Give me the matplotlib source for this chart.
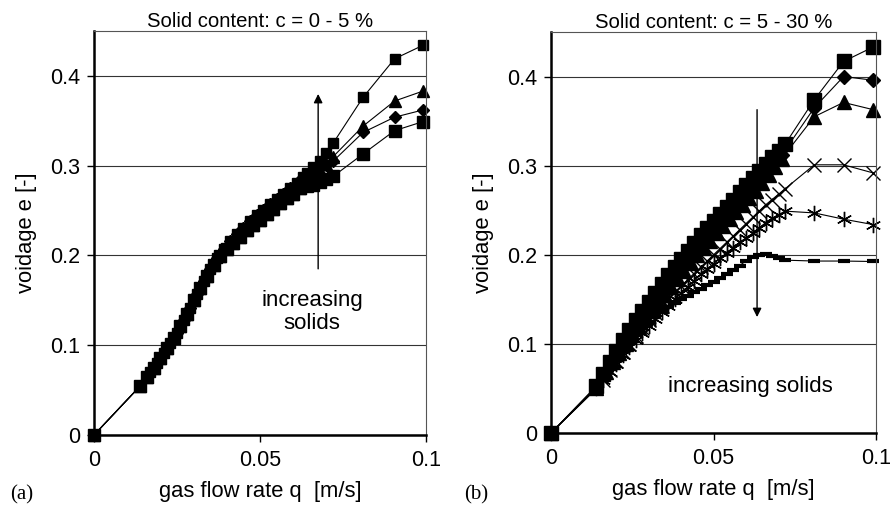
import matplotlib.pyplot as plt

plt.rcParams['font.family'] = ['Liberation Sans', 'DejaVu Sans']

# ---- panel (a): c = 0 - 5 %, dense part (two sets of measuring points) ----
left_q_dense_a = [0.0, 0.014, 0.016, 0.018, 0.020, 0.022, 0.024, 0.026, 0.028, 0.030, 0.032,
                  0.034, 0.036, 0.038, 0.040, 0.042, 0.044, 0.046, 0.048, 0.050, 0.052,
                  0.054, 0.056, 0.058, 0.060, 0.062]
left_e_dense_a = [0.0, 0.055, 0.065, 0.075, 0.086, 0.097, 0.108, 0.121, 0.135, 0.150, 0.164,
                  0.177, 0.189, 0.199, 0.207, 0.214, 0.221, 0.228, 0.234, 0.240, 0.246,
                  0.252, 0.258, 0.264, 0.269, 0.275]
left_q_dense_b = [0.0, 0.014, 0.017, 0.019, 0.021, 0.023, 0.025, 0.027, 0.029, 0.031, 0.033,
                  0.035, 0.037, 0.039, 0.041, 0.043, 0.045, 0.047, 0.049, 0.051, 0.053,
                  0.055, 0.057, 0.059, 0.061, 0.063]
left_e_dense_b = [0.0, 0.055, 0.070, 0.080, 0.091, 0.102, 0.114, 0.128, 0.142, 0.157, 0.171,
                  0.185, 0.197, 0.207, 0.216, 0.224, 0.231, 0.238, 0.245, 0.251, 0.257,
                  0.263, 0.269, 0.275, 0.281, 0.287]
# the curves separate above q = 0.062
left_q_tail = [0.064, 0.066, 0.068, 0.070, 0.072, 0.081, 0.0905, 0.099]
left_e_bigsq = [0.277, 0.279, 0.282, 0.285, 0.288, 0.313, 0.339, 0.349]
left_e_diam = [0.290, 0.294, 0.298, 0.301, 0.305, 0.337, 0.354, 0.362]
left_e_tri = [0.281, 0.288, 0.295, 0.302, 0.310, 0.344, 0.372, 0.383]
left_e_sq = [0.292, 0.298, 0.305, 0.314, 0.325, 0.376, 0.419, 0.434]

# ---- panel (b): c = 5 - 30 % ----
right_q = [0.0, 0.014, 0.016, 0.018, 0.020, 0.022, 0.024, 0.026, 0.028, 0.030, 0.032,
           0.034, 0.036, 0.038, 0.040, 0.042, 0.044, 0.046, 0.048, 0.050, 0.052,
           0.054, 0.056, 0.058, 0.060, 0.062, 0.064, 0.066, 0.068, 0.070, 0.072,
           0.081, 0.090, 0.099]
right_q_b = [0.0, 0.014, 0.017, 0.019, 0.021, 0.023, 0.025, 0.027, 0.029, 0.031, 0.033,
             0.035, 0.037, 0.039, 0.041, 0.043, 0.045, 0.047, 0.049, 0.051, 0.053,
             0.055, 0.057, 0.059, 0.061, 0.063, 0.065, 0.067, 0.069, 0.071,
             0.081, 0.090, 0.099]
right_e_sq = [0.0, 0.053, 0.066, 0.080, 0.092, 0.104, 0.116, 0.127, 0.137, 0.147, 0.157,
              0.167, 0.177, 0.186, 0.195, 0.204, 0.213, 0.222, 0.230, 0.238, 0.246,
              0.254, 0.262, 0.270, 0.278, 0.286, 0.294, 0.302, 0.310, 0.317, 0.324,
              0.374, 0.417, 0.433]
right_e_diam = [0.0, 0.052, 0.070, 0.083, 0.094, 0.105, 0.115, 0.125, 0.135, 0.145, 0.155,
                0.164, 0.173, 0.182, 0.191, 0.199, 0.208, 0.216, 0.224, 0.232, 0.240,
                0.248, 0.256, 0.264, 0.272, 0.280, 0.288, 0.296, 0.304, 0.312,
                0.365, 0.400, 0.396]
right_e_tri = [0.0, 0.051, 0.068, 0.080, 0.090, 0.100, 0.110, 0.119, 0.128, 0.137, 0.146,
               0.155, 0.164, 0.173, 0.182, 0.191, 0.200, 0.208, 0.216, 0.224, 0.232,
               0.240, 0.248, 0.256, 0.264, 0.272, 0.281, 0.290, 0.299, 0.308,
               0.355, 0.371, 0.363]
right_e_x = [0.0, 0.050, 0.060, 0.071, 0.081, 0.091, 0.100, 0.109, 0.118, 0.127, 0.135,
             0.143, 0.151, 0.158, 0.165, 0.172, 0.179, 0.186, 0.193, 0.200, 0.207,
             0.214, 0.221, 0.228, 0.235, 0.242, 0.249, 0.256, 0.262, 0.268, 0.274,
             0.301, 0.301, 0.292]
right_e_star = [0.0, 0.050, 0.059, 0.069, 0.078, 0.087, 0.096, 0.104, 0.112, 0.120, 0.128,
                0.136, 0.143, 0.150, 0.157, 0.164, 0.171, 0.178, 0.184, 0.190, 0.196,
                0.202, 0.208, 0.214, 0.219, 0.224, 0.230, 0.236, 0.241, 0.245, 0.249,
                0.247, 0.240, 0.234]
right_e_dash = [0.0, 0.052, 0.062, 0.072, 0.082, 0.092, 0.101, 0.110, 0.118, 0.125, 0.131,
                0.136, 0.141, 0.146, 0.150, 0.154, 0.158, 0.162, 0.166, 0.170, 0.174,
                0.178, 0.183, 0.188, 0.193, 0.197, 0.200, 0.201, 0.199, 0.196, 0.194,
                0.193, 0.193, 0.1925]

x_ticks = [0, 0.05, 0.1]
x_tick_labels = ['0', '0.05', '0.1']
y_ticks = [0, 0.1, 0.2, 0.3, 0.4]
y_tick_labels = ['0', '0.1', '0.2', '0.3', '0.4']

FS = 15.8


def style_axes(ax, title):
    ax.set_xlim(0, 0.1)
    ax.set_ylim(0, 0.45)
    ax.set_xticks(x_ticks)
    ax.set_xticklabels(x_tick_labels)
    ax.set_yticks(y_ticks)
    ax.set_yticklabels(y_tick_labels)
    ax.tick_params(labelsize=15.5, direction='out', length=5, width=1)
    ax.tick_params(axis='x', pad=6)
    ax.tick_params(axis='y', pad=5)
    ax.grid(axis='y', color='#333333', lw=0.8)
    ax.set_axisbelow(True)
    for side in ['left', 'bottom']:
        ax.spines[side].set_linewidth(1.8)
        ax.spines[side].set_color('black')
    for side in ['top', 'right']:
        ax.spines[side].set_linewidth(0.8)
        ax.spines[side].set_color('#555555')
    ax.set_title(title, fontsize=14.6, pad=3)
    ax.set_xlabel('gas flow rate q  [m/s]', fontsize=FS, labelpad=7)
    ax.set_ylabel('voidage e [-]', fontsize=FS, labelpad=9)


fig = plt.figure(figsize=(8.91, 5.11), dpi=100)
ax1 = fig.add_axes([0.1055, 0.1487, 0.3727, 0.7906])
ax2 = fig.add_axes([0.6184, 0.1526, 0.3648, 0.7847])

line_kw = dict(color='black', lw=0.8, clip_on=False)

# panel (a)
style_axes(ax1, 'Solid content: c = 0 - 5 %')
ax1.plot(left_q_dense_a + left_q_tail, left_e_dense_a + left_e_bigsq, marker='s', ms=9, **line_kw)
ax1.plot(left_q_dense_b + left_q_tail, left_e_dense_b + left_e_diam, marker='D', ms=6.5, **line_kw)
ax1.plot(left_q_dense_a + left_q_tail, left_e_dense_a + left_e_tri, marker='^', ms=8.5, **line_kw)
ax1.plot(left_q_dense_b + left_q_tail, left_e_dense_b + left_e_sq, marker='s', ms=7, **line_kw)
ax1.annotate('', xy=(0.0675, 0.383), xytext=(0.0675, 0.182),
             arrowprops=dict(arrowstyle='-|>', color='black', lw=1, mutation_scale=13))
ax1.text(0.0657, 0.137, 'increasing\nsolids', ha='center', va='center', fontsize=16,
         linespacing=1.15)

# panel (b)
style_axes(ax2, 'Solid content: c = 5 - 30 %')
ax2.plot(right_q, right_e_dash, marker='_', ms=9, mew=3, **line_kw)
ax2.plot(right_q, right_e_star, marker=(6, 2, 0), ms=11, mew=1, **line_kw)
ax2.plot(right_q, right_e_x, marker='x', ms=9.5, mew=1, **line_kw)
ax2.plot(right_q_b, right_e_tri, marker='^', ms=9.5, **line_kw)
ax2.plot(right_q_b, right_e_diam, marker='D', ms=7, **line_kw)
ax2.plot(right_q, right_e_sq, marker='s', ms=9.5, **line_kw)
ax2.annotate('', xy=(0.0634, 0.127), xytext=(0.0634, 0.366),
             arrowprops=dict(arrowstyle='-|>', color='black', lw=1, mutation_scale=13))
ax2.text(0.0612, 0.052, 'increasing solids', ha='center', va='center', fontsize=16)

fig.text(0.011, 0.0235, '(a)', family=['Liberation Serif', 'DejaVu Serif'], fontsize=15)
fig.text(0.521, 0.0235, '(b)', family=['Liberation Serif', 'DejaVu Serif'], fontsize=15)

fig.savefig('out.png', dpi=100)
